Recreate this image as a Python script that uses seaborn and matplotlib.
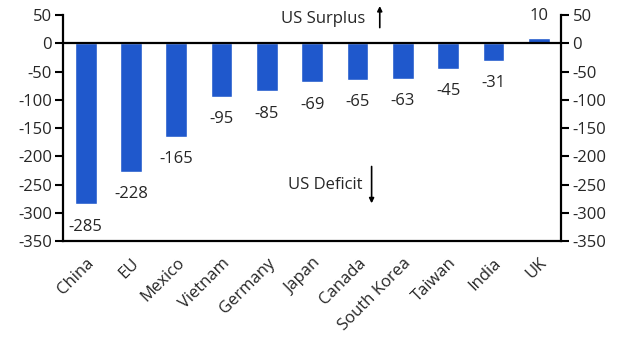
import matplotlib
matplotlib.use('Agg')
import matplotlib.pyplot as plt
import seaborn as sns
import pandas as pd

# data
countries = ['China', 'EU', 'Mexico', 'Vietnam', 'Germany', 'Japan', 'Canada',
             'South Korea', 'Taiwan', 'India', 'UK']
balance = [-285, -228, -165, -95, -85, -69, -65, -63, -45, -31, 10]
yticks = list(range(-350, 51, 50))

df = pd.DataFrame({'country': countries, 'balance': balance})

sns.set_style('white')
plt.rcParams['font.family'] = ['Open Sans', 'DejaVu Sans']
FS = 12

fig = plt.figure(figsize=(6.27, 3.52), dpi=100)
ax = fig.add_axes([0.1005, 0.315, 0.795, 0.642])

sns.barplot(data=df, x='country', y='balance', color='#1f58cc', width=0.48,
            saturation=1, ax=ax)

ax.set_ylim(-350, 50)
ax.set_xlim(-0.5, len(countries) - 0.5)
ax.set_yticks(yticks)
ax.set_yticklabels([str(t) for t in yticks], fontsize=FS)
ax.set_xlabel('')
ax.set_ylabel('')

# category labels at centres, tick marks at boundaries
ax.set_xticks(range(len(countries)))
ax.set_xticklabels(countries, rotation=45, ha='right', rotation_mode='anchor', fontsize=FS)
ax.set_xticks([i - 0.5 for i in range(len(countries) + 1)], minor=True)
ax.tick_params(axis='x', which='major', length=0, pad=10)
ax.tick_params(axis='x', which='minor', length=6, width=1.5, color='black', direction='out')
ax.tick_params(axis='y', length=6, width=1.5, color='black', direction='out', pad=2)

for side in ['left', 'right', 'bottom']:
    ax.spines[side].set_linewidth(1.6)
    ax.spines[side].set_color('black')
ax.spines['top'].set_visible(False)
ax.axhline(0, color='black', lw=1.6, zorder=3)

# right axis mirror
ax2 = ax.twinx()
ax2.set_ylim(ax.get_ylim())
ax2.set_yticks(yticks)
ax2.set_yticklabels([str(t) for t in yticks], fontsize=FS)
ax2.tick_params(axis='y', length=6, width=1.5, color='black', direction='out', pad=2)
for s in ax2.spines.values():
    s.set_visible(False)

# value labels
for i, v in enumerate(balance):
    off = 16 if v > 0 else -16
    ax.annotate(str(v), (i, v), xytext=(0, off), textcoords='offset points',
                ha='center', va='center', fontsize=FS)

# surplus / deficit annotations
ax.text(6.16, 43, 'US Surplus', ha='right', va='center', fontsize=FS)
ax.annotate('', xy=(6.49, 71), xytext=(6.49, 23), xycoords='data',
            arrowprops=dict(arrowstyle='-|>', color='black', lw=1.2, mutation_scale=7),
            annotation_clip=False)
ax.text(6.1, -251, 'US Deficit', ha='right', va='center', fontsize=FS)
ax.annotate('', xy=(6.31, -288), xytext=(6.31, -213), xycoords='data',
            arrowprops=dict(arrowstyle='-|>', color='black', lw=1.2, mutation_scale=7),
            annotation_clip=False)

fig.savefig('out.png', dpi=100)
